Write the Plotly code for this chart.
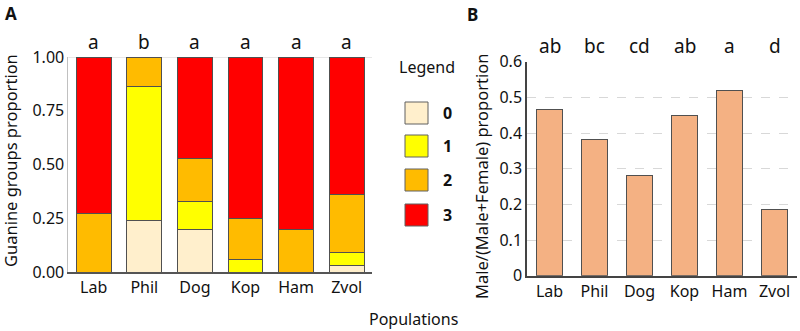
import plotly.graph_objects as go

populations = ["Lab", "Phil", "Dog", "Kop", "Ham", "Zvol"]

# Panel A: guanine group proportions (stacked)
group_names = ["0", "1", "2", "3"]
group_colors = ["#FFEFCC", "#FFFF00", "#FFBB00", "#FF0000"]
g0 = [0.00, 0.24, 0.20, 0.00, 0.00, 0.03]
g1 = [0.00, 0.625, 0.13, 0.06, 0.00, 0.06]
g2 = [0.27, 0.135, 0.20, 0.19, 0.20, 0.27]
g3 = [0.73, 0.00, 0.47, 0.75, 0.80, 0.64]
letters_A = ["a", "b", "a", "a", "a", "a"]

# Panel B: male proportion
male_prop = [0.467, 0.382, 0.280, 0.450, 0.519, 0.186]
letters_B = ["ab", "bc", "cd", "ab", "a", "d"]
bar_color_B = "#F4B183"

FONT = "Noto Sans"
W, H = 800, 331

def px_x(p):
    return p / W

def px_y(p):
    return 1 - p / H

fig = go.Figure()

for name, col, vals in zip(group_names, group_colors, [g0, g1, g2, g3]):
    fig.add_trace(go.Bar(
        x=populations, y=vals, name=name, marker_color=col,
        marker_line_color="#505050", marker_line_width=1,
        xaxis="x", yaxis="y", showlegend=False,
    ))

fig.add_trace(go.Bar(
    x=populations, y=male_prop, marker_color=bar_color_B,
    marker_line_color="#505050", marker_line_width=1,
    xaxis="x2", yaxis="y2", showlegend=False,
))

def ann(x, y, text, size, xref="paper", angle=0, xanchor="center"):
    return dict(x=x, y=y, xref=xref, yref="paper", text=text, showarrow=False,
                xanchor=xanchor, yanchor="middle", textangle=angle,
                font=dict(size=size, color="#111", family=FONT))

annotations = []
for p, l in zip(populations, letters_A):
    annotations.append(ann(p, px_y(42), l, 19, xref="x"))
for p, l in zip(populations, letters_B):
    annotations.append(ann(p, px_y(46), l, 19, xref="x2"))

annotations += [
    ann(px_x(3), px_y(13), "<b>A</b>", 17, xanchor="left"),
    ann(px_x(465), px_y(15), "<b>B</b>", 17, xanchor="left"),
    ann(px_x(10), px_y(161), "Guanine groups proportion", 16.5, angle=-90),
    ann(px_x(481), px_y(176), "Male/(Male+Female) proportion", 16.5, angle=-90),
    ann(px_x(414), px_y(319), "Populations", 16),
    ann(px_x(427), px_y(67), "Legend", 16),
]

shapes = [
    dict(type="line", xref="x domain", yref="y", x0=0, x1=1, y0=1, y1=1,
         line=dict(color="#d0d0d0", width=1), layer="below"),
]

box_tops = [102, 135, 169, 204]
for name, col, top in zip(group_names, group_colors, box_tops):
    shapes.append(dict(type="rect", xref="paper", yref="paper",
                       x0=px_x(405), x1=px_x(428), y0=px_y(top + 22), y1=px_y(top),
                       fillcolor=col, line=dict(color="#606060", width=1)))
    annotations.append(ann(px_x(447), px_y(top + 11), "<b>" + name + "</b>", 16))

fig.update_layout(
    width=W, height=H, autosize=False,
    margin=dict(l=0, r=0, t=0, b=0, pad=0, autoexpand=False),
    paper_bgcolor="white", plot_bgcolor="white",
    barmode="stack", bargap=0.31,
    font=dict(family=FONT, color="#111"),
    annotations=annotations, shapes=shapes,
    xaxis=dict(domain=[px_x(68.4), px_x(372)], anchor="y", range=[-0.5, 5.5],
               showline=True, linecolor="#555", linewidth=1.5, ticks="", automargin=False,
               tickfont=dict(size=16, color="#111"), showgrid=False),
    yaxis=dict(domain=[px_y(272), px_y(57)], anchor="x", range=[0, 1],
               tickvals=[0, 0.25, 0.5, 0.75, 1.0],
               ticktext=["0.00", "0.25", "0.50", "0.75", "1.00"],
               showline=True, linecolor="#c0c0c0", linewidth=1, ticks="", automargin=False,
               tickfont=dict(size=16, color="#111"), showgrid=False, zeroline=False),
    xaxis2=dict(domain=[px_x(527), px_x(797)], anchor="y2", range=[-0.5, 5.5],
                showline=True, linecolor="#444", linewidth=1.5, ticks="", automargin=False,
                tickfont=dict(size=16, color="#111"), showgrid=False),
    yaxis2=dict(domain=[px_y(275.7), px_y(61.7)], anchor="x2", range=[0, 0.6],
                tickvals=[0, 0.1, 0.2, 0.3, 0.4, 0.5, 0.6],
                ticktext=["0", "0.1", "0.2", "0.3", "0.4", "0.5", "0.6"],
                showline=True, linecolor="#444", linewidth=1.5, ticks="", automargin=False,
                tickfont=dict(size=16, color="#111"),
                showgrid=True, gridcolor="#d8d8d8", griddash="dash", gridwidth=1,
                zeroline=False),
)

fig.data[-1].update(width=0.58)

fig.write_html("out.html", config={"displayModeBar": False},
               post_script="document.body.style.margin='0';document.body.style.overflow='hidden';")
